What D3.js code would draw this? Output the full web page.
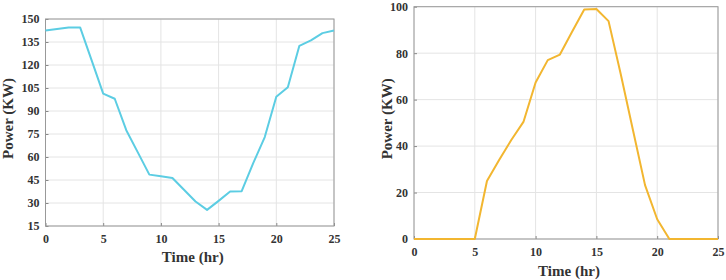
<!DOCTYPE html>
<html>
<head>
<meta charset="utf-8">
<script src="https://cdn.jsdelivr.net/npm/d3@7"></script>
<style>
  body { margin: 0; background: #fff; }
  text { font-family: "Liberation Serif", "DejaVu Serif", serif; font-weight: bold; fill: #333; }
</style>
</head>
<body>
<div id="chart"></div>
<script>
// hours 0..25
var hours = d3.range(0, 26);

// load demand (left panel)
var loadPower = [142.5, 143.5, 144.5, 144.5, 123, 101.3, 98, 77.5, 63, 48.5,
                 47.4, 46.3, 38.6, 31, 25.5, 31.4, 37.5, 37.7, 56, 73,
                 99.3, 105.5, 132.5, 136, 140.8, 142.5];

// PV generation (right panel)
var pvPower = [0, 0, 0, 0, 0, 0, 25, 34, 42.6, 50.4,
               67.4, 77, 79.4, 89.2, 98.8, 99, 93.8, 71, 47, 23.2,
               8.5, 0, 0, 0, 0, 0];

var xTicks = [0, 5, 10, 15, 20, 25];
var loadTicks = [15, 30, 45, 60, 75, 90, 105, 120, 135, 150];
var pvTicks = [0, 20, 40, 60, 80, 100];

var svg = d3.select("#chart")
    .append("svg")
    .attr("width", 726)
    .attr("height", 280);

function make_panel(opts) {
    var g = svg.append("g");
    var x = d3.scaleLinear().domain([0, 25]).range([opts.left, opts.right]);
    var y = d3.scaleLinear().domain(opts.yDomain).range([opts.bottom, opts.top]);

    // grid
    g.selectAll(".vgrid").data(xTicks).enter().append("line")
        .attr("x1", function(d){ return x(d); }).attr("x2", function(d){ return x(d); })
        .attr("y1", opts.top).attr("y2", opts.bottom)
        .attr("stroke", "#e4e4e4").attr("stroke-width", 1);
    g.selectAll(".hgrid").data(opts.yTicks).enter().append("line")
        .attr("y1", function(d){ return y(d); }).attr("y2", function(d){ return y(d); })
        .attr("x1", opts.left).attr("x2", opts.right)
        .attr("stroke", "#e4e4e4").attr("stroke-width", 1);

    // axes (ticks inward)
    var xAxis = d3.axisBottom(x).tickValues(xTicks).tickSizeInner(-3).tickSizeOuter(0).tickPadding(8);
    var yAxis = d3.axisLeft(y).tickValues(opts.yTicks).tickSizeInner(-3).tickSizeOuter(0).tickPadding(6);

    var gx = g.append("g")
        .attr("transform", "translate(0," + opts.bottom + ")")
        .call(xAxis);
    var gy = g.append("g")
        .attr("transform", "translate(" + opts.left + ",0)")
        .call(yAxis);
    [gx, gy].forEach(function(a){
        a.select(".domain").remove();
        a.selectAll("line").attr("stroke", "#888");
        a.selectAll("text").style("font-size", "12px").attr("fill", "#333");
    });

    // frame
    g.append("rect")
        .attr("x", opts.left).attr("y", opts.top)
        .attr("width", opts.right - opts.left).attr("height", opts.bottom - opts.top)
        .attr("fill", "none").attr("stroke", "#999").attr("stroke-width", 1);

    // line
    var line = d3.line()
        .x(function(d, i){ return x(hours[i]); })
        .y(function(d){ return y(d); });
    g.append("path")
        .datum(opts.values)
        .attr("d", line)
        .attr("fill", "none")
        .attr("stroke", opts.color)
        .attr("stroke-width", 2)
        .attr("stroke-linejoin", "round");

    // labels
    g.append("text")
        .attr("x", (opts.left + opts.right) / 2 + 3)
        .attr("y", opts.xLabelY)
        .attr("text-anchor", "middle")
        .style("font-size", "15px")
        .text("Time (hr)");
    g.append("text")
        .attr("transform", "translate(" + opts.yLabelX + "," + ((opts.top + opts.bottom) / 2 - 4) + ") rotate(-90)")
        .attr("text-anchor", "middle")
        .style("font-size", "15px")
        .text("Power (KW)");
}

make_panel({
    left: 45.5, right: 334, top: 19, bottom: 226,
    yDomain: [15, 150], yTicks: loadTicks,
    values: loadPower, color: "#5ccde3",
    xLabelY: 262, yLabelX: 13
});

make_panel({
    left: 414, right: 718, top: 6.7, bottom: 239,
    yDomain: [0, 100], yTicks: pvTicks,
    values: pvPower, color: "#f2b630",
    xLabelY: 276, yLabelX: 392
});
</script>
</body>
</html>
